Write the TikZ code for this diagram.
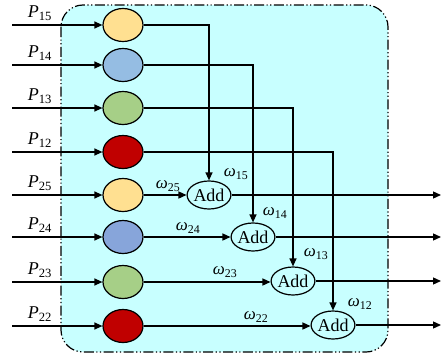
\documentclass[tikz,border=0pt]{standalone}
\usepackage{fontspec}
\setmainfont{Liberation Serif}
\usetikzlibrary{shapes.geometric,arrows.meta}
\definecolor{panel}{RGB}{200,255,255}
\definecolor{cyellow}{RGB}{255,224,145}
\definecolor{clblue}{RGB}{149,189,227}
\definecolor{cgreen}{RGB}{166,207,135}
\definecolor{cred}{RGB}{192,0,0}
\definecolor{cmblue}{RGB}{135,165,218}
\newcommand\symb[2]{\textit{#1}\textsubscript{#2}}
\begin{document}
\begin{tikzpicture}[x=1pt,y=-1pt,line width=1.3pt,
  >={Triangle[length=8pt,width=7pt]},
  unit/.style={ellipse,draw,line width=1.2pt,minimum width=40pt,minimum height=33pt,inner sep=0pt},
  adder/.style={ellipse,draw,line width=1.2pt,minimum width=37pt,minimum height=28pt,inner sep=0pt,
    font=\fontsize{18}{18}\selectfont},
  plabel/.style={font=\fontsize{18}{18}\selectfont,inner sep=0pt},
  wlabel/.style={font=\fontsize{17}{17}\selectfont,inner sep=0pt},
  panelbox/.style={fill=panel,draw,line width=1.2pt,rounded corners=22pt,
    dash pattern=on 10pt off 2.5pt on 1.2pt off 2.5pt on 1.2pt off 2.5pt}]
\useasboundingbox (0,0) rectangle (447,359);
% shaded panel
\draw[panelbox] (61,5) rectangle (388,352);

% weighting units
\node[unit,fill=cyellow] (u15) at (123,25) {};
\node[unit,fill=clblue]  (u14) at (123,65) {};
\node[unit,fill=cgreen]  (u13) at (123,108) {};
\node[unit,fill=cred]    (u12) at (123,152) {};
\node[unit,fill=cyellow] (u25) at (123,195) {};
\node[unit,fill=cmblue]  (u24) at (123,237) {};
\node[unit,fill=cgreen]  (u23) at (123,282) {};
\node[unit,fill=cred]    (u22) at (123,326) {};

% adders
\node[adder] (a1) at (209,195) {Add};
\node[adder] (a2) at (253,237) {Add};
\node[adder] (a3) at (293,281) {Add};
\node[adder] (a4) at (333,325) {Add};

% input ends and output ends
\foreach \n/\y in {15/25,14/65,13/108,12/152,25/195,24/237,23/282,22/326}
  \coordinate (in\n) at (12,\y);
\coordinate (o1) at (441,195);
\coordinate (o2) at (441,237);
\coordinate (o3) at (441,281);
\coordinate (o4) at (441,325);

% inputs
\foreach \n in {15,14,13,12,25,24,23,22}
  \draw[->] (in\n) -- (u\n);

% input labels
\node[plabel] at (40,13) {\symb{P}{15}};
\node[plabel] at (40,53) {\symb{P}{14}};
\node[plabel] at (40,96) {\symb{P}{13}};
\node[plabel] at (40,140) {\symb{P}{12}};
\node[plabel] at (40,183) {\symb{P}{25}};
\node[plabel] at (40,225) {\symb{P}{24}};
\node[plabel] at (40,270) {\symb{P}{23}};
\node[plabel] at (40,314) {\symb{P}{22}};

% first-group branches running down into the adders
\draw[->] (u15) -| (a1);
\draw[->] (u14) -| (a2);
\draw[->] (u13) -| (a3);
\draw[->] (u12) -| (a4);

% second-group branches into the adders
\draw[->] (u25) -- (a1);
\draw[->] (u24) -- (u24 -| a2.west);
\draw[->] (u23) -- (u23 -| a3.west);
\draw[->] (u22) -- (u22 -| a4.west);

% outputs
\draw[->] (a1) -- (o1);
\draw[->] (a2.east |- o2) -- (o2);
\draw[->] (a3) -- (o3);
\draw[->] (a4) -- (o4);

% weights
\node[wlabel] at (168,186) {\symb{ω}{25}};
\node[wlabel] at (188,228) {\symb{ω}{24}};
\node[wlabel] at (225,272) {\symb{ω}{23}};
\node[wlabel] at (256,317) {\symb{ω}{22}};
\node[wlabel] at (236,174) {\symb{ω}{15}};
\node[wlabel] at (275,213) {\symb{ω}{14}};
\node[wlabel] at (316,254) {\symb{ω}{13}};
\node[wlabel] at (360,304) {\symb{ω}{12}};
\end{tikzpicture}
\end{document}
